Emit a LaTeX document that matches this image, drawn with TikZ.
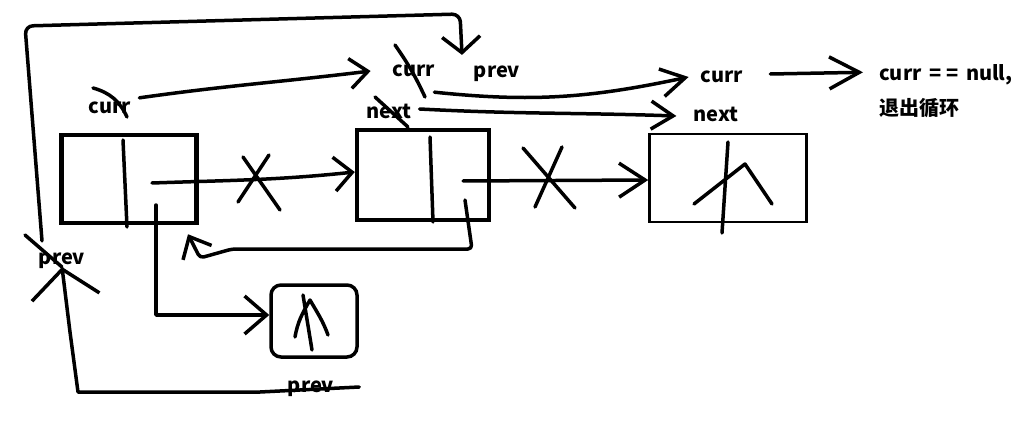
\documentclass[tikz,border=0pt]{standalone}
\usepackage{fontspec}
\setmainfont{Noto Sans CJK SC}
\usetikzlibrary{arrows.meta}

\begin{document}
\begin{tikzpicture}[x=1pt,y=1pt,
    pen/.style={line width=3.5pt,line cap=round,line join=round},
    box/.style={draw,line width=4.5pt},
    lbl/.style={font=\bfseries\fontsize{20}{23}\selectfont,inner sep=2pt},
    barb/.style 2 args={-{Straight Barb[length=#1,width=#2]}}]
    \useasboundingbox (0,0) rectangle (1027,-422);

    \node[box,minimum width=135pt,minimum height=88pt] (b1) at (129,-179) {};
    \node[box,minimum width=132pt,minimum height=90pt] (b2) at (423,-175) {};
    \node[box,line width=2.5pt,minimum width=157pt,minimum height=88pt] (b3) at (728,-178) {};
    \node[box,line width=3.5pt,rounded corners=10pt,minimum width=86pt,minimum height=72pt] (b4) at (314,-321) {};

    \node[lbl] (c1) at (110,-108) {curr};
    \node[lbl] (c2) at (414,-71) {curr};
    \node[lbl] (p2) at (497,-74) {prev};
    \node[lbl] (n2) at (389,-111) {next};
    \node[lbl] (c3) at (722,-77) {curr};
    \node[lbl] (n3) at (716,-114) {next};
    \node[lbl,anchor=base west] (res) at (877,-81) {curr\kern3pt{} =\kern5pt= \kern3pt null,};
    \node[lbl,anchor=base west] (quit) at (877,-116) {退出循环};
    \node[lbl] (p1) at (62,-261) {prev};
    \node[lbl] (p0) at (311,-389) {prev};

    \draw[pen] (123,-140) -- (127,-227);
    \draw[pen] (430,-137) -- (433,-222);
    \draw[pen] (694,-204) -- (745,-164) -- (772,-204) (728,-142) -- (722,-233);
    \draw[pen] (303,-295) -- (312,-350)
        (295,-337) to[out=80,in=-120] (310,-300) to[out=-60,in=110] (328,-335);

    \draw[pen,barb={18pt}{30pt}] ([xshift=6pt,yshift=2pt]c1.north east) to[out=8,in=187] ([xshift=-20pt]c2.west);
    \draw[pen,barb={18pt}{34pt}] ([xshift=23pt,yshift=-4pt]b1.center) to[out=2,in=186] ([yshift=3pt]b2.west);
    \draw[pen,barb={26pt}{34pt}] ([xshift=40pt,yshift=-6pt]b2.center) -- ([yshift=-2pt]b3.west);
    \draw[pen,barb={22pt}{38pt}] ([xshift=27pt,yshift=-26pt]b1.center) |- ([yshift=6pt]b4.west);
    \draw[pen,rounded corners=4pt,barb={18pt}{32pt}] ([xshift=42pt,yshift=-25pt]b2.center)
        -- (472,-249) -- (232,-249) -- (200,-258) -- ([xshift=59pt,yshift=-9pt]b1.south);
    \draw[pen,barb={28pt}{68pt}] ([xshift=23pt,yshift=2pt]p0.east)
        -- (260,-392) -- (78,-392) -- (70,-332) -- ([yshift=-6pt]p1.center);
    \draw[pen,rounded corners=8pt,barb={16pt}{38pt}] ([xshift=-20pt,yshift=10pt]p1.north)
        -- (25,-26) -- (460,-14) -- ([xshift=-35pt,yshift=9pt]p2.north);
    \draw[pen,barb={24pt}{28pt}] ([xshift=-3pt,yshift=-13pt]c2.south east) to[out=-6,in=192] ([xshift=-10pt]c3.west);
    \draw[pen,barb={22pt}{28pt}] ([xshift=6pt,yshift=2pt]n2.east) to[out=-3,in=178] ([xshift=-15pt,yshift=-2pt]n3.west);
    \draw[pen,barb={30pt}{32pt}] ([xshift=25pt,yshift=3pt]c3.east) -- ([xshift=-14pt,yshift=3pt]res.west);

    \draw[pen] (93,-88) to[bend left=25] (127,-117);
    \draw[pen] (395,-45) to[bend left=5] (425,-97);
    \draw[pen] (375,-97) -- (408,-127);
    \draw[pen] (243,-157) -- (280,-210) (269,-155) -- (238,-202);
    \draw[pen] (523,-148) -- (575,-208) (562,-147) -- (535,-207);
    \draw[pen] (25,-235) -- (62,-267);
\end{tikzpicture}
\end{document}
